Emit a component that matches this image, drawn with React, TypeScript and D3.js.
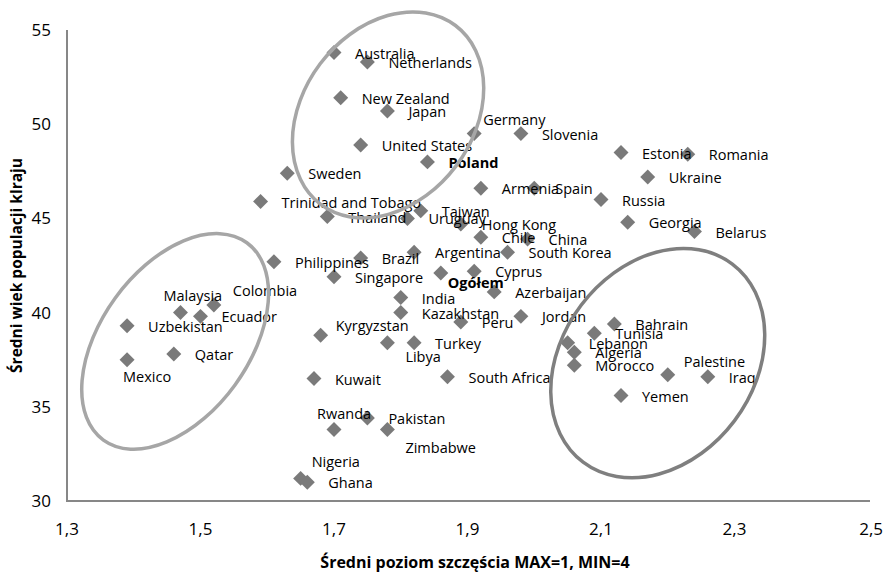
import * as d3 from "d3";
import React, { useRef, useEffect } from "react";

// kraje, poziom szczęścia (x) i średni wiek (y)
const countries = [
  "Australia", "Netherlands", "New Zealand", "Japan", "Germany", "Slovenia",
  "United States", "Estonia", "Romania", "Poland", "Sweden", "Ukraine",
  "Armenia", "Spain", "Russia", "Trinidad and Tobago", "Taiwan", "Thailand",
  "Uruguay", "Hong Kong", "Georgia", "Belarus", "Chile", "China",
  "Argentina", "South Korea", "Brazil", "Philippines", "Ogółem", "Cyprus",
  "Singapore", "Azerbaijan", "India", "Colombia", "Malaysia", "Kazakhstan",
  "Ecuador", "Jordan", "Peru", "Bahrain", "Uzbekistan", "Tunisia",
  "Kyrgyzstan", "Lebanon", "Libya", "Turkey", "Algeria", "Qatar",
  "Mexico", "Morocco", "Palestine", "Iraq", "South Africa", "Kuwait",
  "Yemen", "Pakistan", "Rwanda", "Zimbabwe", "Nigeria", "Ghana",
];
const happiness = [
  1.70, 1.75, 1.71, 1.78, 1.91, 1.98,
  1.74, 2.13, 2.23, 1.84, 1.63, 2.17,
  1.92, 2.00, 2.10, 1.59, 1.83, 1.69,
  1.81, 1.89, 2.14, 2.24, 1.92, 1.99,
  1.82, 1.96, 1.74, 1.61, 1.86, 1.91,
  1.70, 1.94, 1.80, 1.52, 1.47, 1.80,
  1.50, 1.98, 1.89, 2.12, 1.39, 2.09,
  1.68, 2.05, 1.78, 1.82, 2.06, 1.46,
  1.39, 2.06, 2.20, 2.26, 1.87, 1.67,
  2.13, 1.75, 1.70, 1.78, 1.65, 1.66,
];
const medianAge = [
  53.8, 53.3, 51.4, 50.7, 49.5, 49.5,
  48.9, 48.5, 48.4, 48.0, 47.4, 47.2,
  46.6, 46.6, 46.0, 45.9, 45.4, 45.1,
  45.0, 44.7, 44.8, 44.3, 44.0, 43.9,
  43.2, 43.2, 42.9, 42.7, 42.1, 42.2,
  41.9, 41.1, 40.8, 40.4, 40.0, 40.0,
  39.8, 39.8, 39.5, 39.4, 39.3, 38.9,
  38.8, 38.4, 38.4, 38.4, 37.9, 37.8,
  37.5, 37.2, 36.7, 36.6, 36.6, 36.5,
  35.6, 34.4, 33.8, 33.8, 31.2, 31.0,
];
const boldLabels = ["Poland", "Ogółem"];

const xTicks = [1.3, 1.5, 1.7, 1.9, 2.1, 2.3, 2.5];
const yTicks = [30, 35, 40, 45, 50, 55];
const xTitle = "Średni poziom szczęścia MAX=1, MIN=4";
const yTitle = "Średni wiek populacji klraju";

// środki elips (w jednostkach danych)
const ellipseX = [1.462, 1.781, 2.185];
const ellipseY = [38.47, 50.49, 37.32];

// przesunięcia etykiet innych niż "z prawej"
const labelNudge: Record<string, [number, number]> = {
  Germany: [9, -14],
  Colombia: [19, -14],
  Malaysia: [-17, -17],
  Mexico: [-4, 17],
  Kyrgyzstan: [15, -9],
  Rwanda: [-17, -15],
  Zimbabwe: [18, 19],
  Libya: [18, 14],
  Nigeria: [11, -16],
  Palestine: [16, -13],
  "Ogółem": [7, 10],
};
// rozmiary / kąty elips
const ellipseStyle = [
  { rx: 122, ry: 74, angle: -54, color: "#a6a6a6" },
  { rx: 112, ry: 85, angle: -53, color: "#a6a6a6" },
  { rx: 124, ry: 96, angle: -53, color: "#7f7f7f" },
];

const width = 885;
const height = 574;
const margin = { top: 30, right: 17, bottom: 73, left: 67 };
const comma = (v: number) => d3.format(".1f")(v).replace(".", ",");

function Scatter() {
  const ref = useRef<SVGSVGElement>(null);

  useEffect(() => {
    const svg = d3.select(ref.current);
    svg.selectAll("*").remove();

    const x = d3.scaleLinear().domain([1.3, 2.5]).range([margin.left, width - margin.right]);
    const y = d3.scaleLinear().domain([30, 55]).range([height - margin.bottom, margin.top]);
    const font = "'Open Sans', sans-serif";

    // osie
    svg.append("line")
      .attr("x1", x(1.3)).attr("x2", x(1.3))
      .attr("y1", y(55)).attr("y2", y(30))
      .attr("stroke", "#878787").attr("stroke-width", 2);
    svg.append("line")
      .attr("x1", x(1.3) - 1).attr("x2", x(2.5) + 2)
      .attr("y1", y(30)).attr("y2", y(30))
      .attr("stroke", "#878787").attr("stroke-width", 2);

    svg.selectAll(".xt").data(xTicks).enter().append("text")
      .attr("x", d => (d === 2.5 ? width - 2 : x(d)))
      .attr("y", y(30) + 34)
      .attr("text-anchor", d => (d === 2.5 ? "end" : "middle"))
      .attr("font-family", font).attr("font-size", 17)
      .attr("fill", "#000")
      .text(d => comma(d));

    svg.selectAll(".yt").data(yTicks).enter().append("text")
      .attr("x", x(1.3) - 16)
      .attr("y", d => y(d) + 6)
      .attr("text-anchor", "end")
      .attr("font-family", font).attr("font-size", 17)
      .attr("fill", "#000")
      .text(d => d);

    svg.append("text")
      .attr("x", 475).attr("y", height - 6)
      .attr("text-anchor", "middle")
      .attr("font-family", font).attr("font-size", 16).attr("font-weight", "bold")
      .text(xTitle);

    svg.append("text")
      .attr("transform", `translate(22,${(y(30) + y(55)) / 2}) rotate(-90)`)
      .attr("text-anchor", "middle")
      .attr("font-family", font).attr("font-size", 15.5).attr("font-weight", "bold")
      .text(yTitle);

    const pts = countries.map((c, i) => ({ name: c, hx: happiness[i], age: medianAge[i] }));

    const diamond = d3.symbol().type(d3.symbolSquare).size(112);
    svg.selectAll(".pt").data(pts).enter().append("path")
      .attr("d", diamond)
      .attr("transform", d => `translate(${x(d.hx)},${y(d.age)}) rotate(45)`)
      .attr("fill", "#7a7a7a");

    svg.selectAll(".lbl").data(pts).enter().append("text")
      .attr("x", d => x(d.hx) + (labelNudge[d.name] ? labelNudge[d.name][0] : 21))
      .attr("y", d => y(d.age) + (labelNudge[d.name] ? labelNudge[d.name][1] : 1))
      .attr("dy", "0.35em")
      .attr("font-family", font).attr("font-size", 14.5)
      .attr("font-weight", d => (boldLabels.includes(d.name) ? "bold" : "normal"))
      .attr("fill", "#000")
      .text(d => d.name);

    // elipsy na wierzchu
    svg.selectAll(".el").data(ellipseX).enter().append("ellipse")
      .attr("transform", (d, i) => `translate(${x(d)},${y(ellipseY[i])}) rotate(${ellipseStyle[i].angle})`)
      .attr("rx", (d, i) => ellipseStyle[i].rx)
      .attr("ry", (d, i) => ellipseStyle[i].ry)
      .attr("fill", "none")
      .attr("stroke", (d, i) => ellipseStyle[i].color)
      .attr("stroke-width", 3.5);
  }, []);

  return (
    <svg ref={ref} width={width} height={height}
      style={{ position: "absolute", left: 0, top: 0, background: "#fff" }} />
  );
}

export default function App() {
  return <Scatter />;
}
